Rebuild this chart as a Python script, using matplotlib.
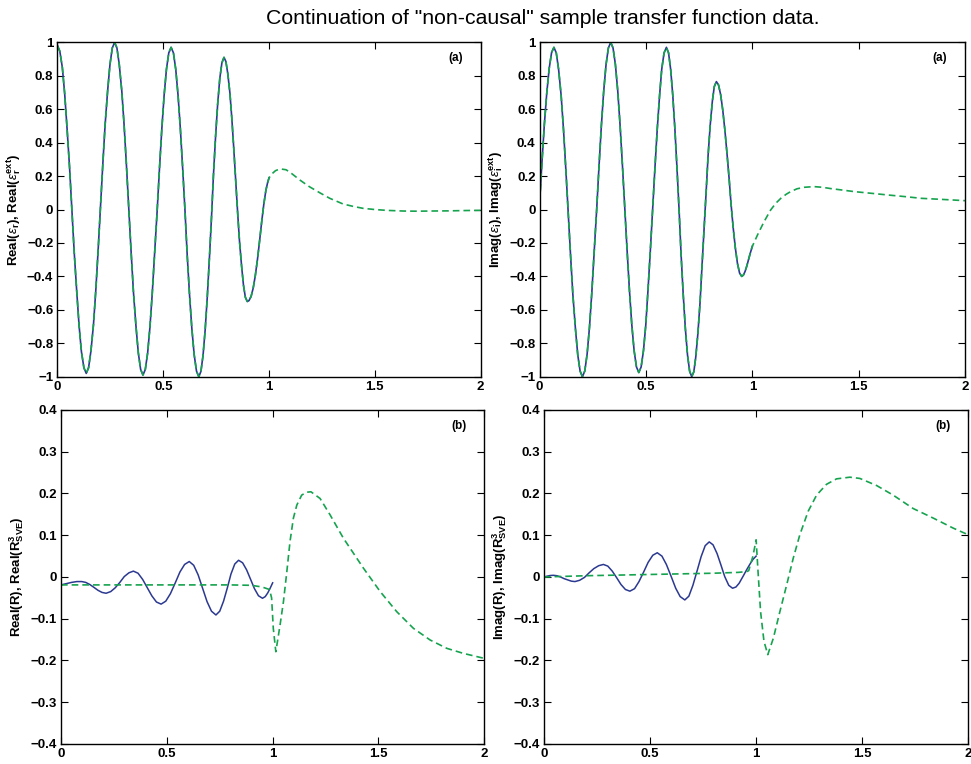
import matplotlib
matplotlib.use('Agg')
import matplotlib.pyplot as plt
from matplotlib.ticker import FuncFormatter

# ---- data ----
# (a) real part of eps_r, measured on [0, 1]
real_x = [0, 0.011, 0.023, 0.034, 0.045, 0.057, 0.068, 0.079, 0.091, 0.102, 0.113, 0.125, 0.136,
          0.147, 0.158, 0.170, 0.181, 0.192, 0.203, 0.214, 0.225, 0.237, 0.248, 0.259, 0.270,
          0.281, 0.292, 0.304, 0.315, 0.326, 0.337, 0.348, 0.359, 0.371, 0.382, 0.393, 0.404,
          0.415, 0.426, 0.437, 0.448, 0.459, 0.471, 0.482, 0.493, 0.504, 0.515, 0.526, 0.537,
          0.548, 0.559, 0.570, 0.581, 0.592, 0.603, 0.613, 0.624, 0.635, 0.646, 0.657, 0.668,
          0.678, 0.688, 0.698, 0.708, 0.718, 0.728, 0.737, 0.747, 0.757, 0.767, 0.777, 0.787,
          0.796, 0.805, 0.815, 0.824, 0.833, 0.842, 0.851, 0.860, 0.870, 0.879, 0.888, 0.897,
          0.905, 0.915, 0.925, 0.935, 0.945, 0.955, 0.965, 0.975, 0.985, 0.993, 1.000]
real_eps = [0.98, 0.947, 0.849, 0.693, 0.49, 0.254, 0.0, -0.254, -0.49, -0.693, -0.849, -0.947, -0.98,
            -0.946, -0.847, -0.690, -0.485, -0.246, 0.01, 0.266, 0.505, 0.710, 0.867, 0.966, 1.0,
            0.966, 0.867, 0.708, 0.503, 0.263, 0.005, -0.253, -0.493, -0.698, -0.857, -0.956, -0.99,
            -0.957, -0.859, -0.703, -0.50, -0.264, -0.01, 0.244, 0.48, 0.683, 0.839, 0.937, 0.97,
            0.937, 0.838, 0.681, 0.478, 0.240, -0.015, -0.270, -0.508, -0.711, -0.868, -0.966, -1.0,
            -0.968, -0.872, -0.720, -0.523, -0.292, -0.045, 0.202, 0.433, 0.630, 0.782, 0.877, 0.91,
            0.885, 0.812, 0.696, 0.545, 0.369, 0.18, -0.009, -0.185, -0.336, -0.452, -0.525, -0.55,
            -0.545, -0.52, -0.47, -0.395, -0.30, -0.19, -0.075, 0.03, 0.115, 0.16, 0.19]
# continuation on (1, 2]
real_ext_x = [1.015, 1.03, 1.045, 1.058, 1.08, 1.1, 1.145, 1.19, 1.24, 1.287,
              1.35, 1.40, 1.445, 1.5, 1.555, 1.634, 1.7, 1.76, 1.85, 1.93, 2.0]
real_ext = [0.215, 0.232, 0.24, 0.242, 0.238, 0.222, 0.177, 0.137, 0.10, 0.067,
            0.033, 0.018, 0.007, 0.0, -0.005, -0.009, -0.01, -0.009, -0.008, -0.006, -0.005]

# (a) imaginary part of eps_i
imag_x = [0, 0.011, 0.022, 0.0335, 0.045, 0.056, 0.067,
          0.078, 0.089, 0.101, 0.112, 0.123, 0.134, 0.145, 0.156, 0.168, 0.179, 0.190, 0.201,
          0.212, 0.223, 0.234, 0.245, 0.256, 0.268, 0.279, 0.290, 0.301, 0.312, 0.323, 0.334,
          0.345, 0.356, 0.367, 0.378, 0.389, 0.400, 0.411, 0.422, 0.433, 0.444, 0.455, 0.466,
          0.477, 0.488, 0.499, 0.509, 0.520, 0.531, 0.542, 0.553, 0.564, 0.574, 0.585, 0.596,
          0.606, 0.616, 0.626, 0.636, 0.646, 0.656, 0.665, 0.675, 0.685, 0.695, 0.705, 0.715,
          0.725, 0.734, 0.744, 0.754, 0.763, 0.773, 0.783, 0.792, 0.802, 0.812, 0.821, 0.831,
          0.841, 0.851, 0.861, 0.871, 0.881, 0.891, 0.900, 0.910, 0.920, 0.930, 0.940, 0.950,
          0.958, 0.966, 0.974, 0.982, 0.991, 1.000]
imag_eps = [0.05, 0.288, 0.51, 0.70, 0.847, 0.939, 0.97,
            0.937, 0.838, 0.681, 0.478, 0.240, -0.015, -0.270, -0.508, -0.711, -0.868, -0.966, -1.0,
            -0.966, -0.866, -0.707, -0.5, -0.259, 0.0, 0.259, 0.5, 0.707, 0.866, 0.966, 1.0,
            0.966, 0.868, 0.711, 0.506, 0.268, 0.013, -0.243, -0.481, -0.686, -0.843, -0.941, -0.975,
            -0.942, -0.845, -0.690, -0.489, -0.254, -0.003, 0.249, 0.484, 0.685, 0.840, 0.937, 0.97,
            0.937, 0.838, 0.681, 0.478, 0.240, -0.015, -0.270, -0.508, -0.711, -0.868, -0.966, -1.0,
            -0.970, -0.882, -0.741, -0.559, -0.346, -0.118, 0.111, 0.324, 0.506, 0.647, 0.735, 0.765,
            0.745, 0.687, 0.594, 0.474, 0.333, 0.183, 0.032, -0.109, -0.229, -0.322, -0.380, -0.40,
            -0.392, -0.37, -0.338, -0.30, -0.258, -0.22]
imag_ext_x = [1.024, 1.055, 1.086, 1.11, 1.134, 1.16, 1.18, 1.21, 1.244, 1.29,
              1.33, 1.37, 1.42, 1.48, 1.56, 1.637, 1.72, 1.794, 1.9, 2.0]
imag_ext = [-0.153, -0.073, -0.003, 0.037, 0.067, 0.092, 0.107, 0.124, 0.133, 0.137,
            0.133, 0.125, 0.117, 0.107, 0.097, 0.087, 0.077, 0.067, 0.06, 0.053]

# (b) real part of R and of the SVE fit
rr_x = [0, 0.025, 0.05, 0.075, 0.098,
        0.117, 0.136, 0.156, 0.175, 0.194, 0.213,
        0.235, 0.256, 0.278, 0.299, 0.321, 0.342,
        0.364, 0.386, 0.408, 0.429, 0.451, 0.473,
        0.495, 0.517, 0.540, 0.562, 0.584, 0.606,
        0.627, 0.648, 0.669, 0.690, 0.711, 0.732,
        0.750, 0.768, 0.786, 0.803, 0.821, 0.839,
        0.858, 0.877, 0.896, 0.914, 0.933, 0.952,
        0.965, 0.977, 0.989, 1.0]
rr = [-0.019, -0.016, -0.013, -0.011, -0.011,
      -0.013, -0.018, -0.025, -0.032, -0.037, -0.039,
      -0.035, -0.026, -0.013, 0.001, 0.010, 0.014,
      0.009, -0.006, -0.026, -0.045, -0.060, -0.065,
      -0.058, -0.040, -0.014, 0.012, 0.030, 0.037,
      0.028, 0.005, -0.027, -0.059, -0.082, -0.091,
      -0.082, -0.058, -0.026, 0.007, 0.031, 0.040,
      0.034, 0.017, -0.006, -0.028, -0.045, -0.051,
      -0.047, -0.038, -0.026, -0.014]
rr_sve_x = [0, 0.1, 0.2, 0.3, 0.4, 0.5, 0.6, 0.7, 0.8, 0.9, 0.95, 0.985, 0.995,
            1.003, 1.015, 1.035, 1.051, 1.067, 1.082, 1.098, 1.114, 1.137, 1.16,
            1.181, 1.224, 1.271, 1.334, 1.429, 1.508, 1.586, 1.665, 1.744, 1.823,
            1.901, 2.0]
rr_sve = [-0.019, -0.019, -0.019, -0.019, -0.019, -0.019, -0.019, -0.019, -0.019,
          -0.020, -0.024, -0.030, -0.05, -0.123, -0.179, -0.115, -0.059, 0.013,
          0.085, 0.141, 0.172, 0.196, 0.203, 0.204, 0.188, 0.149, 0.093, 0.021,
          -0.035, -0.083, -0.123, -0.151, -0.171, -0.183, -0.195]

# (b) imaginary part of R and of the SVE fit
ri_x = [0, 0.015, 0.03, 0.044,
        0.061, 0.078, 0.095, 0.112, 0.129, 0.146,
        0.168, 0.191, 0.213, 0.235, 0.258, 0.280,
        0.301, 0.322, 0.343, 0.363, 0.384, 0.405,
        0.427, 0.448, 0.470, 0.491, 0.513, 0.534,
        0.556, 0.577, 0.599, 0.621, 0.642, 0.664,
        0.683, 0.702, 0.722, 0.741, 0.760, 0.779,
        0.797, 0.816, 0.834, 0.852, 0.871, 0.889,
        0.905, 0.920, 0.940, 0.955, 0.970, 0.985, 1.0]
ri = [0.0, 0.002, 0.0035, 0.004,
      0.003, 0.000, -0.004, -0.007, -0.010, -0.011,
      -0.008, -0.001, 0.010, 0.020, 0.027, 0.030,
      0.026, 0.014, -0.002, -0.018, -0.030, -0.034,
      -0.028, -0.011, 0.012, 0.035, 0.052, 0.058,
      0.050, 0.030, 0.002, -0.027, -0.047, -0.055,
      -0.046, -0.020, 0.015, 0.049, 0.075, 0.084,
      0.077, 0.056, 0.029, 0.001, -0.020, -0.027,
      -0.024, -0.015, 0.003, 0.017, 0.030, 0.042, 0.050]
ri_sve_x = [0, 0.2, 0.4, 0.6, 0.8, 0.916, 0.956, 0.965, 0.985, 1.0, 1.01, 1.021,
            1.037, 1.055, 1.081, 1.112, 1.144, 1.175, 1.206, 1.245, 1.285, 1.332,
            1.379, 1.442, 1.489, 1.568, 1.646, 1.74, 1.835, 1.929, 2.0]
ri_sve = [0.0, 0.003, 0.005, 0.007, 0.009, 0.011, 0.013, 0.015, 0.05, 0.089, 0.005,
          -0.083, -0.154, -0.186, -0.147, -0.083, -0.019, 0.045, 0.101, 0.157, 0.196,
          0.222, 0.235, 0.239, 0.236, 0.219, 0.196, 0.164, 0.141, 0.117, 0.101]

xticks = [0, 0.5, 1, 1.5, 2]
yticks_top = [-1, -0.8, -0.6, -0.4, -0.2, 0, 0.2, 0.4, 0.6, 0.8, 1]
yticks_bot = [-0.4, -0.3, -0.2, -0.1, 0, 0.1, 0.2, 0.3, 0.4]

# ---- style ----
plt.rcParams['font.family'] = ['Liberation Sans', 'DejaVu Sans']
plt.rcParams['mathtext.fontset'] = 'custom'
plt.rcParams['mathtext.rm'] = 'Liberation Sans:bold'
plt.rcParams['mathtext.bf'] = 'Liberation Sans:bold'
plt.rcParams['mathtext.it'] = 'Liberation Sans:italic'

blue = '#2b3990'
green = '#16a34f'
dash = (0, (4, 2.4))


def fmt(v, pos):
    return ('%g' % round(v, 3)).replace('-', '\u2212')


def style(ax, yticks, label, tag):
    ax.set_xlim(0, 2)
    ax.set_ylim(yticks[0], yticks[-1])
    ax.set_xticks(xticks)
    ax.set_yticks(yticks)
    ax.xaxis.set_major_formatter(FuncFormatter(fmt))
    ax.yaxis.set_major_formatter(FuncFormatter(fmt))
    ax.tick_params(direction='in', top=True, right=True, length=5, width=0.8,
                   labelsize=9.5, pad=3)
    for t in ax.get_xticklabels() + ax.get_yticklabels():
        t.set_fontweight('bold')
    for s in ax.spines.values():
        s.set_linewidth(1.0)
    ax.set_ylabel(label, fontsize=9.5, fontweight='bold', labelpad=3)
    ax.text(0.94, 0.953, tag, transform=ax.transAxes, ha='center', va='center',
            fontsize=8.5, fontweight='bold')


fig = plt.figure(figsize=(9.71, 7.64), dpi=100)

ax1 = fig.add_axes([0.0592, 0.5069, 0.4358, 0.4377])
ax1.plot(real_x, real_eps, color=blue, lw=1.2)
ax1.plot(real_x + real_ext_x, real_eps + real_ext, color=green, lw=1.2, ls=dash)
style(ax1, yticks_top, r'Real($\varepsilon_{\mathbf{r}}$), Real($\varepsilon_{\mathbf{r}}^{\mathbf{ext}}$)', '(a)')

ax2 = fig.add_axes([0.5558, 0.5069, 0.438, 0.4377])
ax2.plot(imag_x, imag_eps, color=blue, lw=1.2)
ax2.plot(imag_x + imag_ext_x, imag_eps + imag_ext, color=green, lw=1.2, ls=dash)
style(ax2, yticks_top, r'Imag($\varepsilon_{\mathbf{i}}$), Imag($\varepsilon_{\mathbf{i}}^{\mathbf{ext}}$)', '(a)')

ax3 = fig.add_axes([0.0628, 0.0262, 0.436, 0.4372])
ax3.plot(rr_x, rr, color=blue, lw=1.1)
ax3.plot(rr_sve_x, rr_sve, color=green, lw=1.2, ls=dash)
style(ax3, yticks_bot, r'Real(R), Real($\mathbf{R}^{\mathbf{3}}_{\mathbf{SVE}}$)', '(b)')

ax4 = fig.add_axes([0.5602, 0.0262, 0.437, 0.4372])
ax4.plot(ri_x, ri, color=blue, lw=1.1)
ax4.plot(ri_sve_x, ri_sve, color=green, lw=1.2, ls=dash)
style(ax4, yticks_bot, r'Imag(R), Imag($\mathbf{R}^{\mathbf{3}}_{\mathbf{SVE}}$)', '(b)')

fig.text(0.559, 0.976, 'Continuation of "non-causal" sample transfer function data.',
         ha='center', va='center', fontsize=15.3)

fig.savefig('out.png', dpi=100)
